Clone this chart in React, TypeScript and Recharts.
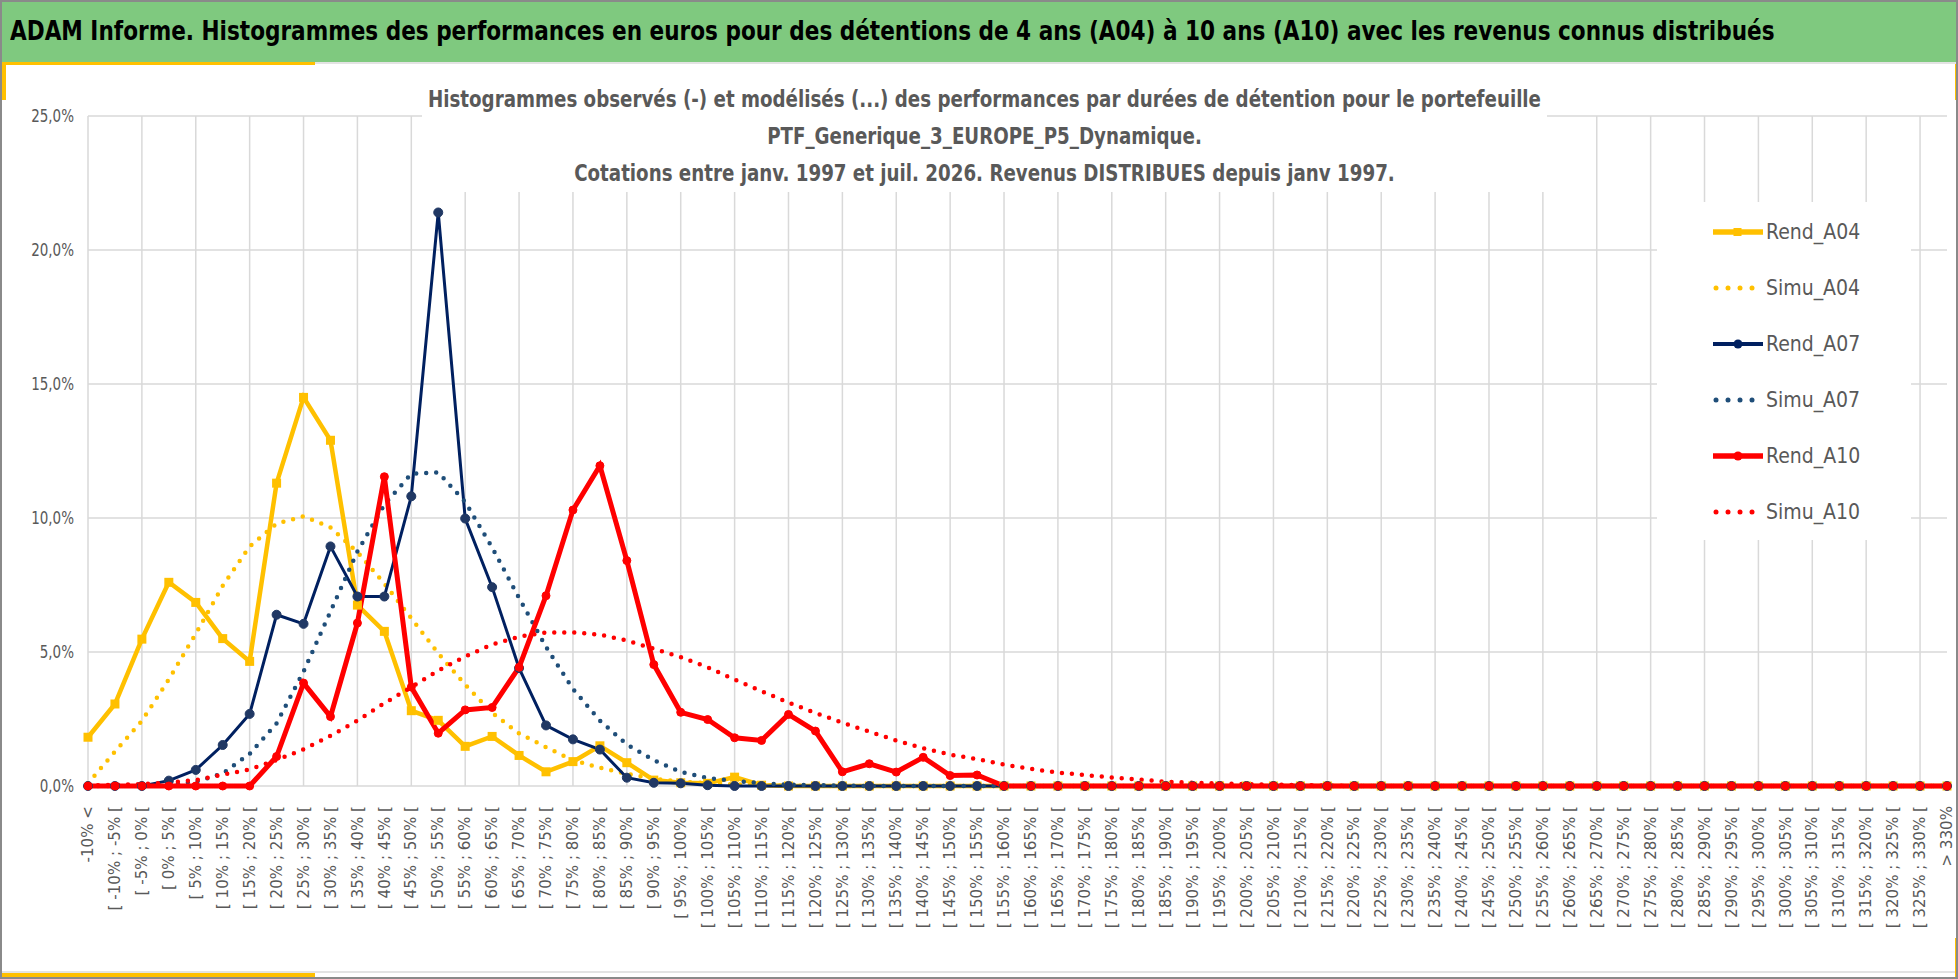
import { LineChart, Line, XAxis, YAxis, CartesianGrid, ReferenceLine } from "recharts";

const FONT = '"Liberation Sans Narrow", "DejaVu Sans Condensed", "Arial Narrow", sans-serif';
const GREY = "#595959";
const GRID = "#d9d9d9";

// classes de performance (axe horizontal)
const categories = [
  "-10% <", "[ -10% ; -5% [", "[ -5% ; 0% [", "[ 0% ; 5% [", "[ 5% ; 10% [",
  "[ 10% ; 15% [", "[ 15% ; 20% [", "[ 20% ; 25% [", "[ 25% ; 30% [", "[ 30% ; 35% [",
  "[ 35% ; 40% [", "[ 40% ; 45% [", "[ 45% ; 50% [", "[ 50% ; 55% [", "[ 55% ; 60% [",
  "[ 60% ; 65% [", "[ 65% ; 70% [", "[ 70% ; 75% [", "[ 75% ; 80% [", "[ 80% ; 85% [",
  "[ 85% ; 90% [", "[ 90% ; 95% [", "[ 95% ; 100% [", "[ 100% ; 105% [", "[ 105% ; 110% [",
  "[ 110% ; 115% [", "[ 115% ; 120% [", "[ 120% ; 125% [", "[ 125% ; 130% [", "[ 130% ; 135% [",
  "[ 135% ; 140% [", "[ 140% ; 145% [", "[ 145% ; 150% [", "[ 150% ; 155% [", "[ 155% ; 160% [",
  "[ 160% ; 165% [", "[ 165% ; 170% [", "[ 170% ; 175% [", "[ 175% ; 180% [", "[ 180% ; 185% [",
  "[ 185% ; 190% [", "[ 190% ; 195% [", "[ 195% ; 200% [", "[ 200% ; 205% [", "[ 205% ; 210% [",
  "[ 210% ; 215% [", "[ 215% ; 220% [", "[ 220% ; 225% [", "[ 225% ; 230% [", "[ 230% ; 235% [",
  "[ 235% ; 240% [", "[ 240% ; 245% [", "[ 245% ; 250% [", "[ 250% ; 255% [", "[ 255% ; 260% [",
  "[ 260% ; 265% [", "[ 265% ; 270% [", "[ 270% ; 275% [", "[ 275% ; 280% [", "[ 280% ; 285% [",
  "[ 285% ; 290% [", "[ 290% ; 295% [", "[ 295% ; 300% [", "[ 300% ; 305% [", "[ 305% ; 310% [",
  "[ 310% ; 315% [", "[ 315% ; 320% [", "[ 320% ; 325% [", "[ 325% ; 330% [", "> 330%",
];

// fréquences en %
const rendA04 = [
  1.82, 3.06, 5.48, 7.6, 6.85, 5.5, 4.65, 11.3, 14.5, 12.9,
  6.75, 5.77, 2.81, 2.45, 1.48, 1.85, 1.14, 0.53, 0.91, 1.5,
  0.87, 0.22, 0.12, 0.1, 0.33, 0.03, 0, 0, 0, 0,
  0, 0, 0, 0, 0, 0, 0, 0, 0, 0,
  0, 0, 0, 0, 0, 0, 0, 0, 0, 0,
  0, 0, 0, 0, 0, 0, 0, 0, 0, 0,
  0, 0, 0, 0, 0, 0, 0, 0, 0, 0,
];

const simuA04 = [
  0.1, 1.28, 2.43, 3.98, 5.68, 7.47, 8.94, 9.79, 10.06, 9.65,
  8.73, 7.55, 6.26, 4.95, 3.78, 2.73, 1.96, 1.45, 0.96, 0.68,
  0.46, 0.27, 0.16, 0.1, 0.06, 0.03, 0.02, 0, 0, 0,
  0, 0, 0, 0, 0, 0, 0, 0, 0, 0,
  0, 0, 0, 0, 0, 0, 0, 0, 0, 0,
  0, 0, 0, 0, 0, 0, 0, 0, 0, 0,
  0, 0, 0, 0, 0, 0, 0, 0, 0, 0,
];

const rendA07 = [
  0, 0, 0, 0.2, 0.6, 1.53, 2.69, 6.39, 6.05, 8.94,
  7.07, 7.07, 10.81, 21.4, 9.98, 7.42, 4.4, 2.26, 1.74, 1.36,
  0.31, 0.12, 0.1, 0.03, 0, 0, 0, 0, 0, 0,
  0, 0, 0, 0, 0, 0, 0, 0, 0, 0,
  0, 0, 0, 0, 0, 0, 0, 0, 0, 0,
  0, 0, 0, 0, 0, 0, 0, 0, 0, 0,
  0, 0, 0, 0, 0, 0, 0, 0, 0, 0,
];

const simuA07 = [
  0, 0, 0.02, 0.06, 0.16, 0.47, 1.2, 2.34, 4.27, 6.51,
  8.75, 10.5, 11.65, 11.7, 10.6, 8.9, 7.01, 5.19, 3.62, 2.44,
  1.55, 0.96, 0.53, 0.3, 0.19, 0.1, 0.05, 0.03, 0.02, 0,
  0, 0, 0, 0, 0, 0, 0, 0, 0, 0,
  0, 0, 0, 0, 0, 0, 0, 0, 0, 0,
  0, 0, 0, 0, 0, 0, 0, 0, 0, 0,
  0, 0, 0, 0, 0, 0, 0, 0, 0, 0,
];

const rendA10 = [
  0, 0, 0, 0, 0, 0, 0, 1.1, 3.84, 2.59,
  6.08, 11.54, 3.69, 1.97, 2.84, 2.93, 4.43, 7.1, 10.3, 11.95,
  8.41, 4.53, 2.75, 2.48, 1.8, 1.7, 2.67, 2.05, 0.53, 0.83,
  0.52, 1.07, 0.39, 0.41, 0, 0, 0, 0, 0, 0,
  0, 0, 0, 0, 0, 0, 0, 0, 0, 0,
  0, 0, 0, 0, 0, 0, 0, 0, 0, 0,
  0, 0, 0, 0, 0, 0, 0, 0, 0, 0,
];

const simuA10 = [
  0.02, 0.04, 0.07, 0.13, 0.22, 0.42, 0.62, 0.97, 1.37, 1.87,
  2.44, 3.09, 3.69, 4.31, 4.83, 5.28, 5.57, 5.73, 5.73, 5.65,
  5.43, 5.12, 4.81, 4.43, 3.97, 3.54, 3.11, 2.73, 2.36, 2.03,
  1.7, 1.41, 1.17, 1.0, 0.8, 0.64, 0.5, 0.41, 0.32, 0.24,
  0.16, 0.12, 0.1, 0.07, 0.05, 0.03, 0.02, 0, 0, 0,
  0, 0, 0, 0, 0, 0, 0, 0, 0, 0,
  0, 0, 0, 0, 0, 0, 0, 0, 0, 0,
];

const yTicks = [0, 5, 10, 15, 20, 25];

const headerTitle =
  "ADAM Informe. Histogrammes des performances en euros pour des détentions de 4 ans (A04) à 10 ans (A10) avec les revenus connus distribués";

const titleLines = [
  "Histogrammes observés (-) et modélisés (...) des performances par durées de détention pour le portefeuille",
  "PTF_Generique_3_EUROPE_P5_Dynamique.",
  "Cotations entre janv. 1997 et juil. 2026. Revenus DISTRIBUES depuis janv 1997.",
];

const legendItems = [
  { name: "Rend_A04", color: "#FFC000", kind: "square", width: 5.5 },
  { name: "Simu_A04", color: "#FFC000", kind: "dots", width: 0 },
  { name: "Rend_A07", color: "#002060", kind: "circle", width: 4 },
  { name: "Simu_A07", color: "#1F4E79", kind: "dots", width: 0 },
  { name: "Rend_A10", color: "#FF0000", kind: "circle", width: 5.5 },
  { name: "Simu_A10", color: "#FF0000", kind: "dots", width: 0 },
];

const data = categories.map((label, i) => ({
  label,
  rendA04: rendA04[i],
  simuA04: simuA04[i],
  rendA07: rendA07[i],
  simuA07: simuA07[i],
  rendA10: rendA10[i],
  simuA10: simuA10[i],
}));

const fmtPct = (v: number) => `${v.toFixed(1).replace(".", ",")}%`;

function XTick({ x, y, payload }: any) {
  return (
    <text
      transform={`translate(${x},${y + 12}) rotate(-90) scale(1.12,1)`}
      textAnchor="end"
      dominantBaseline="central"
      fontSize={15}
      fontFamily={FONT}
      fill={GREY}
    >
      {payload.value}
    </text>
  );
}

function YTick({ x, y, payload }: any) {
  return (
    <text
      transform={`translate(${x},${y}) scale(1,1.2)`}
      textAnchor="end"
      dominantBaseline="central"
      fontSize={15}
      fontFamily={FONT}
      fill={GREY}
    >
      {fmtPct(payload.value)}
    </text>
  );
}

function SquareDot(props: any) {
  const { cx, cy, index } = props;
  if (cx == null || cy == null) return <g key={`sq-${index}`} />;
  return <rect key={`sq-${index}`} x={cx - 4.5} y={cy - 4.5} width={9} height={9} fill="#FFC000" />;
}

function LegendSample({ color, kind, width }: { color: string; kind: string; width: number }) {
  if (kind === "dots") {
    return (
      <svg width={50} height={14}>
        {[3, 15, 27, 39].map((cx) => (
          <circle key={cx} cx={cx} cy={7} r={2.5} fill={color} />
        ))}
      </svg>
    );
  }
  return (
    <svg width={50} height={14}>
      <line x1={0} y1={7} x2={50} y2={7} stroke={color} strokeWidth={width} />
      {kind === "square" ? (
        <rect x={20.5} y={3} width={8} height={8} fill={color} />
      ) : (
        <circle cx={25} cy={7} r={4.5} fill={color} />
      )}
    </svg>
  );
}

export default function App() {
  return (
    <div
      style={{
        position: "absolute",
        left: 0,
        top: 0,
        width: 1958,
        height: 979,
        background: "#fff",
        overflow: "hidden",
        fontFamily: FONT,
      }}
    >
      <LineChart
        width={1958}
        height={979}
        data={data}
        margin={{ top: 116, right: 11, bottom: 0, left: 0 }}
      >
        <CartesianGrid vertical={false} stroke={GRID} strokeWidth={1.5} />
        {categories
          .filter((_, i) => i % 2 === 0)
          .map((c) => (
            <ReferenceLine key={c} x={c} stroke={GRID} strokeWidth={1.5} />
          ))}
        <XAxis
          dataKey="label"
          scale="point"
          interval={0}
          height={193}
          axisLine={false}
          tickLine={false}
          tick={<XTick />}
        />
        <YAxis
          width={88}
          domain={[0, 25]}
          ticks={yTicks}
          axisLine={false}
          tickLine={false}
          tickMargin={8}
          tick={<YTick />}
        />
        <Line
          dataKey="rendA04"
          stroke="#FFC000"
          strokeWidth={4.5}
          dot={<SquareDot />}
          isAnimationActive={false}
        />
        <Line
          dataKey="simuA04"
          stroke="#FFC000"
          strokeWidth={4.5}
          strokeDasharray="0 10"
          strokeLinecap="round"
          dot={false}
          isAnimationActive={false}
        />
        <Line
          dataKey="rendA07"
          stroke="#002060"
          strokeWidth={3}
          dot={{ r: 4.5, fill: "#203864", stroke: "#203864", strokeWidth: 1 }}
          isAnimationActive={false}
        />
        <Line
          dataKey="simuA07"
          stroke="#1F4E79"
          strokeWidth={4.5}
          strokeDasharray="0 10"
          strokeLinecap="round"
          dot={false}
          isAnimationActive={false}
        />
        <Line
          dataKey="rendA10"
          stroke="#FF0000"
          strokeWidth={5}
          dot={{ r: 4, fill: "#FF0000", stroke: "#FF0000", strokeWidth: 1 }}
          isAnimationActive={false}
        />
        <Line
          dataKey="simuA10"
          stroke="#FF0000"
          strokeWidth={4.5}
          strokeDasharray="0 10"
          strokeLinecap="round"
          dot={false}
          isAnimationActive={false}
        />
      </LineChart>

      {/* bandeau vert */}
      <div
        style={{
          position: "absolute",
          left: 0,
          top: 0,
          width: 1958,
          height: 62,
          background: "#7FC97F",
          color: "#000",
          fontWeight: "bold",
          fontSize: 24,
          lineHeight: "62px",
          paddingLeft: 10,
          boxSizing: "border-box",
          whiteSpace: "nowrap",
        }}
      >
        <span style={{ display: "inline-block", transform: "scaleY(1.08)", transformOrigin: "left center" }}>
          {headerTitle}
        </span>
      </div>
      <div style={{ position: "absolute", left: 0, top: 62, width: 1958, height: 2, background: "#e3e3e3" }} />
      <div style={{ position: "absolute", left: 0, top: 62, width: 315, height: 3, background: "#FFC000" }} />
      <div style={{ position: "absolute", left: 0, top: 62, width: 6, height: 38, background: "#FFC000" }} />
      <div style={{ position: "absolute", right: 0, top: 64, width: 3, height: 36, background: "#FFC000" }} />
      <div style={{ position: "absolute", left: 0, top: 971, width: 1958, height: 2, background: "#e3e3e3" }} />
      <div style={{ position: "absolute", left: 0, top: 973, width: 315, height: 4, background: "#FFC000" }} />
      <div style={{ position: "absolute", right: 0, top: 938, width: 3, height: 41, background: "#FFC000" }} />

      {/* titre du graphique */}
      <div
        style={{
          position: "absolute",
          left: 422,
          top: 81,
          width: 1125,
          height: 111,
          background: "#fff",
          color: GREY,
          fontWeight: "bold",
          fontSize: 20.3,
          lineHeight: "37px",
          textAlign: "center",
          whiteSpace: "nowrap",
        }}
      >
        {titleLines.map((t) => (
          <div key={t}>
            <span style={{ display: "inline-block", transform: "scaleY(1.12)" }}>{t}</span>
          </div>
        ))}
      </div>

      {/* légende */}
      <div
        style={{
          position: "absolute",
          left: 1657,
          top: 202,
          width: 254,
          height: 338,
          background: "#fff",
        }}
      >
        {legendItems.map((it, i) => (
          <div
            key={it.name}
            style={{
              position: "absolute",
              left: 56,
              top: 30 + i * 56 - 14,
              height: 28,
              display: "flex",
              alignItems: "center",
              gap: 3,
              color: GREY,
              fontSize: 21,
            }}
          >
            <LegendSample color={it.color} kind={it.kind} width={it.width} />
            <span>{it.name}</span>
          </div>
        ))}
      </div>

      {/* cadre */}
      <div
        style={{
          position: "absolute",
          left: 0,
          top: 0,
          width: 1958,
          height: 979,
          border: "2px solid #8a8a8a",
          boxSizing: "border-box",
          pointerEvents: "none",
        }}
      />
    </div>
  );
}
